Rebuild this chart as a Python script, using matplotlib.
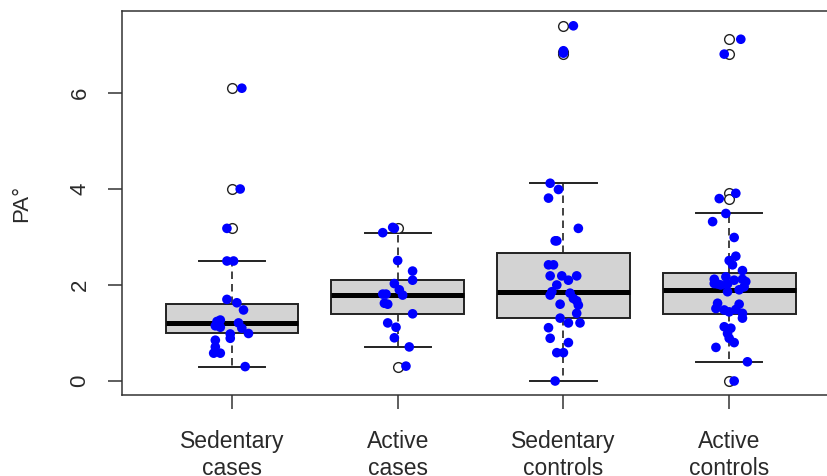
import numpy as np
import matplotlib
matplotlib.use("Agg")
import matplotlib.pyplot as plt

# categorias e estatisticas dos boxplots
groups = ["Sedentary\ncases", "Active\ncases", "Sedentary\ncontrols", "Active\ncontrols"]
medians = [1.20, 1.80, 1.85, 1.90]
q1 = [0.99, 1.39, 1.31, 1.39]
q3 = [1.60, 2.10, 2.66, 2.26]
whislo = [0.30, 0.70, 0.00, 0.40]
whishi = [2.51, 3.09, 4.12, 3.51]
fliers = [[6.10, 4.00, 3.18],
          [3.18, 0.30],
          [7.40, 6.86, 6.82],
          [7.12, 6.81, 3.91, 3.80, 0.00]]

# pontos individuais (valor, deslocamento horizontal do jitter)
vals1 = [2.50, 2.50, 1.70, 1.63, 1.48, 1.24, 1.27, 1.15, 1.12, 1.19, 1.21, 1.10,
         0.99, 0.98, 0.89, 0.85, 0.71, 0.58, 0.58, 0.30, 6.10, 4.00, 3.18]
jit1 = [-0.03, 0.01, -0.03, 0.03, 0.07, -0.09, -0.07, -0.10, -0.07, -0.08, 0.04, 0.06,
        0.10, -0.01, -0.01, -0.10, -0.10, -0.11, -0.07, 0.08, 0.06, 0.05, -0.03]

vals2 = [3.09, 3.20, 3.18, 2.51, 2.29, 2.10, 2.03, 1.90, 1.79, 1.81, 1.81, 1.62,
         1.60, 1.40, 1.21, 1.12, 0.90, 0.71, 0.31]
jit2 = [-0.09, -0.03, -0.02, 0.00, 0.09, 0.09, -0.02, 0.01, 0.03, -0.09, -0.07, -0.08,
        -0.06, 0.09, -0.06, -0.01, -0.02, 0.07, 0.05]

vals3 = [4.12, 3.99, 3.81, 3.18, 2.92, 2.92, 2.42, 2.42, 2.19, 2.19, 2.10, 2.19,
         2.00, 1.86, 1.79, 1.83, 1.72, 1.67, 1.58, 1.41, 1.60, 1.31, 1.21, 1.21,
         1.11, 0.89, 0.80, 0.59, 0.59, 0.00, 7.40, 6.88, 6.83]
jit3 = [-0.08, -0.03, -0.09, 0.09, -0.05, -0.04, -0.09, -0.06, -0.08, -0.01, 0.03, 0.08,
        -0.04, -0.07, -0.08, 0.04, 0.06, 0.08, 0.09, 0.08, -0.02, -0.02, 0.03, 0.10,
        -0.09, -0.08, 0.03, -0.04, 0.00, -0.05, 0.06, 0.00, 0.00]

vals4 = [3.80, 3.91, 3.49, 3.32, 2.99, 2.60, 2.51, 2.42, 2.30, 2.12, 2.17, 2.10,
         2.12, 2.07, 2.02, 2.02, 2.03, 2.00, 1.86, 1.90, 1.96, 1.62, 1.51, 1.48,
         1.44, 1.49, 1.60, 1.41, 1.31, 1.13, 1.10, 0.99, 0.89, 0.80, 0.70, 0.40,
         0.00, 7.12, 6.81]
jit4 = [-0.06, 0.04, -0.02, -0.10, 0.03, 0.04, 0.00, 0.02, 0.08, -0.09, -0.02, 0.03,
        0.08, 0.10, -0.07, -0.01, -0.09, -0.05, -0.01, 0.06, 0.09, -0.07, -0.08, -0.03,
        0.00, 0.04, 0.06, 0.08, 0.08, -0.03, 0.01, -0.01, 0.00, 0.03, -0.08, 0.11,
        0.03, 0.07, -0.03]

yticks = [0, 2, 4, 6]

plt.rcParams['font.family'] = ['Liberation Sans', 'DejaVu Sans']

fig = plt.figure(figsize=(8.28, 4.76), dpi=100)
W, H = 828, 476
# eixo como no R: a borda direita fica fora da imagem
ax = fig.add_axes([122.5 / W, 1 - 395.4 / H, (838.6 - 122.5) / W, (395.4 - 11.4) / H])

stats = []
for i in range(len(groups)):
    stats.append(dict(med=medians[i], q1=q1[i], q3=q3[i],
                      whislo=whislo[i], whishi=whishi[i], fliers=fliers[i]))

pos = np.arange(1, len(groups) + 1)
edge = "#222222"
ax.bxp(stats, positions=pos, widths=0.8, capwidths=0.4, patch_artist=True,
       boxprops=dict(facecolor="#D3D3D3", edgecolor=edge, linewidth=1.4),
       medianprops=dict(color="black", linewidth=3.6, solid_capstyle="butt"),
       whiskerprops=dict(color=edge, linewidth=1.2, linestyle=(0, (4.5, 3))),
       capprops=dict(color=edge, linewidth=1.4),
       flierprops=dict(marker="o", markerfacecolor="white", markeredgecolor=edge,
                       markersize=7, markeredgewidth=1.0))

# pontos com jitter por cima
for k, (v, j) in enumerate([(vals1, jit1), (vals2, jit2), (vals3, jit3), (vals4, jit4)]):
    ax.scatter(pos[k] + np.array(j), v, s=48, color="#0000FF", edgecolors="none", zorder=5)

ax.set_xlim(0.34, 4.66)
ax.set_ylim(-0.3, 7.7)
ax.set_xticks(pos)
ax.set_xticklabels(groups, fontsize=16.5, color="#2a2a2a", linespacing=1.2)
ax.set_yticks(yticks)
ax.set_yticklabels([str(t) for t in yticks], fontsize=16, color="#2a2a2a",
                   rotation=90, va="center")
ax.tick_params(axis="both", length=10, width=1.1, color="#333333")
ax.tick_params(axis="y", pad=13)
ax.tick_params(axis="x", pad=15)
for s in ax.spines.values():
    s.set_color("#333333")
    s.set_linewidth(1.1)

ax.set_ylabel("PA°", fontsize=16, color="#2a2a2a")
ax.yaxis.set_label_coords(-0.126, 0.5)

fig.savefig("out.png", dpi=100)
